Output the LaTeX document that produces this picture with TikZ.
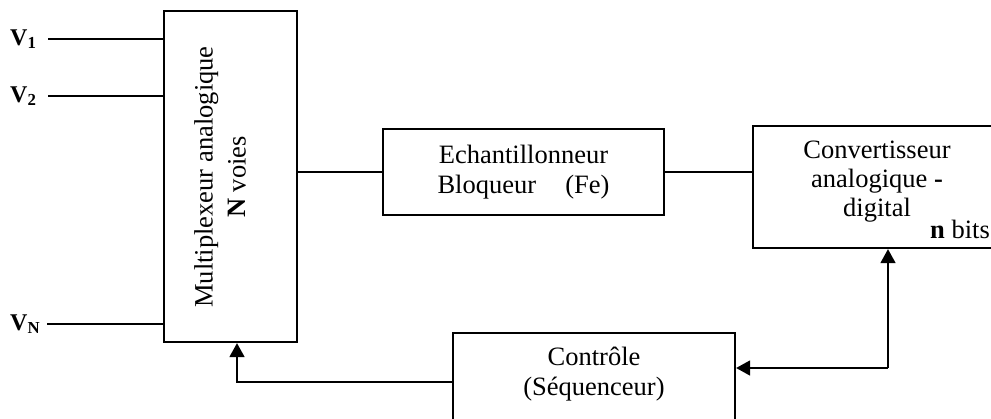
\documentclass[tikz,border=0pt]{standalone}
\usepackage{fontspec}
\setmainfont{Liberation Serif}
\usetikzlibrary{arrows.meta}
\begin{document}
\begin{tikzpicture}[x=1pt,y=-1pt,
  txt/.style={font=\fontsize{26.5}{30.5}\selectfont},
  block/.style={draw, line width=2.3pt, inner sep=0pt, align=center, txt},
  wire/.style={line width=1.7pt},
  tip/.style={-{Triangle[length=14pt,width=15pt]}},
  vlabel/.style={font=\fontsize{24}{28}\selectfont\bfseries, inner sep=0pt, anchor=base west}]
\useasboundingbox (0,0) rectangle (991,418);
\clip (0,0) rectangle (991,418);

% blocks
\node[block, minimum width=133pt, minimum height=331pt] (mux) at (230.5,176.5) {};
\node[txt, rotate=90, align=center, inner sep=0pt, font=\fontsize{26.5}{33}\selectfont] (muxtext) at (220,177)
  {Multiplexeur analogique\\\textbf{N} voies};
\node[block, minimum width=281pt, minimum height=86pt] (ech) at (523.5,172)
  {Echantillonneur\\Bloqueur\hspace{1.1em}(Fe)};
\node[block, minimum width=246pt, minimum height=122pt] (conv) at (876,187) {};
\node[txt, align=center, inner sep=0pt, font=\fontsize{26.5}{29}\selectfont] (convtext) at (877,182)
  {Convertisseur\\analogique \textbf{-}\\digital};
\node[txt, inner sep=0pt, anchor=base east] (nbits) at (990,238) {\textbf{n} bits};
\node[block, minimum width=282pt, minimum height=110pt] (ctrl) at (594,388) {};
\node[txt, align=center, inner sep=0pt] (ctrltext) at (594,374) {Contrôle\\(Séquenceur)};

% inputs
\node[vlabel] (v1) at (10,45) {V\textsubscript{1}};
\node[vlabel] (v2) at (10,102) {V\textsubscript{2}};
\node[vlabel] (vn) at (10,330) {V\textsubscript{N}};
\coordinate (i1) at (48,39);
\coordinate (i2) at (48,96);
\coordinate (in) at (47,324);
\draw[wire] (i1) -- (i1 -| mux.west);
\draw[wire] (i2) -- (i2 -| mux.west);
\draw[wire] (in) -- (in -| mux.west);

% data path
\draw[wire] (ech.west -| mux.east) -- (ech.west);
\draw[wire] (ech.east) -- (ech.east -| conv.west);

% control lines
\coordinate (jn) at (888,368);
\draw[wire, tip] (jn) -- (jn |- conv.south);
\draw[wire, tip] (jn) -- (jn -| ctrl.east);
\coordinate (fb) at (237,382);
\draw[wire, tip] (fb -| ctrl.west) -- (fb) -- (fb |- mux.south);
\end{tikzpicture}
\end{document}
